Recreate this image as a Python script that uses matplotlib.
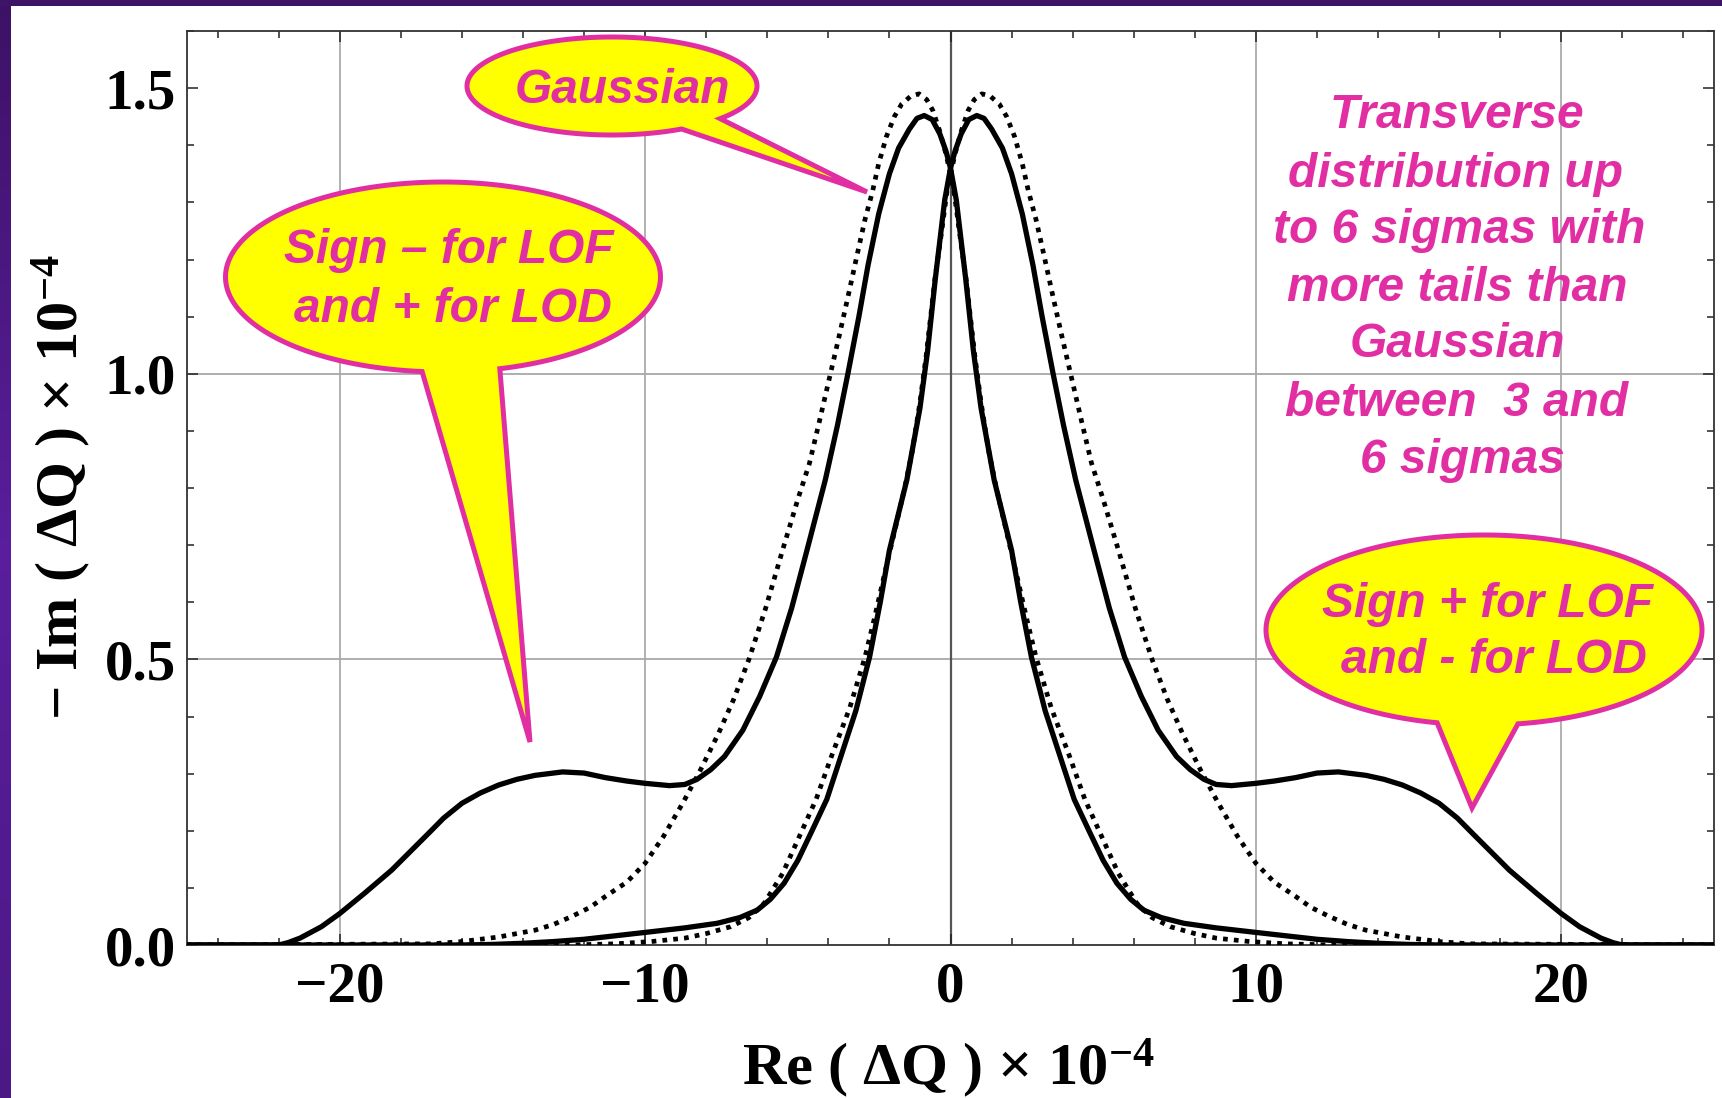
import numpy as np
import matplotlib
matplotlib.use('Agg')
import matplotlib.pyplot as plt
from matplotlib.patches import Polygon
from matplotlib.ticker import MultipleLocator, FormatStrFormatter
from matplotlib.colors import LinearSegmentedColormap

plt.rcParams['font.family'] = ['Liberation Serif', 'DejaVu Serif']
plt.rcParams['font.weight'] = 'bold'
plt.rcParams['mathtext.fontset'] = 'custom'
plt.rcParams['mathtext.rm'] = 'Liberation Serif:bold'
plt.rcParams['mathtext.it'] = 'Liberation Serif:bold'
plt.rcParams['mathtext.bf'] = 'Liberation Serif:bold'

# stability curve shifted to the left (solid), the other one is its mirror image
solid_x = [-25, -22.0, -21.7, -21.3, -20.6, -20.0, -19.2, -18.3, -17.7, -17.1, -16.6,
           -16.0, -15.4, -14.8, -14.2, -13.6, -12.7, -12.0, -11.3, -10.6, -10.0, -9.2,
           -8.7, -8.3, -7.85, -7.4, -6.8, -6.25, -5.7, -5.2, -4.7, -4.1, -3.7, -3.36,
           -3.0, -2.7, -2.35, -2.0, -1.7, -1.35, -1.1, -0.86, -0.6, -0.35, -0.15, 0.0,
           0.19, 0.5, 0.75, 1.0, 1.43, 2.0, 2.3, 2.65, 3.1, 3.59, 4.05, 4.57, 5.0, 5.45,
           5.9, 6.33, 6.9, 7.64, 8.7, 9.84, 11.0, 12.0, 13.0, 14.0, 15.0, 16.0, 25]
solid_y = [0, 0, 0.004, 0.012, 0.032, 0.055, 0.09, 0.131, 0.163, 0.195, 0.222,
           0.248, 0.266, 0.28, 0.29, 0.297, 0.303, 0.301, 0.293, 0.287, 0.283, 0.279,
           0.281, 0.29, 0.307, 0.33, 0.376, 0.435, 0.504, 0.59, 0.691, 0.814, 0.91, 1.0,
           1.1, 1.19, 1.28, 1.35, 1.395, 1.428, 1.447, 1.452, 1.445, 1.42, 1.39, 1.36,
           1.304, 1.165, 1.04, 0.94, 0.814, 0.691, 0.6, 0.504, 0.41, 0.33, 0.255, 0.196,
           0.148, 0.108, 0.08, 0.061, 0.048, 0.038, 0.03, 0.023, 0.016, 0.01, 0.006,
           0.003, 0.001, 0, 0]

# gaussian reference (dotted), same mirror arrangement
gauss_x = [-25, -17.0, -16.0, -15.4, -14.8, -13.6, -13.0, -12.4, -11.8, -11.3, -10.6,
           -10.0, -9.4, -8.75, -8.2, -7.6, -7.1, -6.6, -6.05, -5.5, -5.0, -4.62, -4.3,
           -3.98, -3.65, -3.36, -3.05, -2.8, -2.55, -2.35, -2.1, -1.84, -1.6, -1.3,
           -1.03, -0.78, -0.58, -0.36, -0.15, 0.1, 0.3, 0.5, 0.8, 1.0, 1.25, 1.5, 1.85,
           2.2, 2.5, 2.8, 3.3, 3.9, 4.4, 5.0, 5.5, 6.1, 6.6, 7.2, 8.0, 8.7, 9.8, 11.0,
           12.5, 25]
gauss_y = [0, 0.002, 0.006, 0.01, 0.014, 0.026, 0.036, 0.05, 0.066, 0.085, 0.11,
           0.143, 0.19, 0.25, 0.305, 0.37, 0.43, 0.50, 0.59, 0.691, 0.78, 0.843, 0.915,
           0.989, 1.065, 1.134, 1.21, 1.27, 1.32, 1.368, 1.415, 1.45, 1.472, 1.486,
           1.49, 1.48, 1.461, 1.426, 1.385, 1.325, 1.245, 1.17, 1.03, 0.95, 0.865, 0.80,
           0.72, 0.64, 0.57, 0.504, 0.415, 0.33, 0.255, 0.184, 0.125, 0.073, 0.048,
           0.032, 0.02, 0.012, 0.006, 0.002, 0, 0]

transverse_lines = ['Transverse', 'distribution up', 'to 6 sigmas with',
                    'more tails than', 'Gaussian', 'between  3 and', '6 sigmas']

MAG = '#E12FA3'
YEL = '#FFFF00'

W, H = 1722, 1098
fig = plt.figure(figsize=(W / 100, H / 100), dpi=100)
fig.patch.set_facecolor('white')

ax = fig.add_axes([187 / W, (H - 945) / H, 1527 / W, 914 / H])
ax.set_xlim(-25, 25)
ax.set_ylim(0, 1.6)

for xv in [-20, -10, 10, 20]:
    ax.axvline(xv, color='#9c9c9c', lw=1.1, zorder=1)
for yv in [0.5, 1.0]:
    ax.axhline(yv, color='#a8a8a8', lw=1.3, zorder=1)
ax.axvline(0, color='#555555', lw=1.6, zorder=1)

sx = np.array(solid_x)
gx = np.array(gauss_x)
ax.plot(sx, solid_y, color='k', lw=3.8, zorder=3, solid_joinstyle='round')
ax.plot(-sx, solid_y, color='k', lw=3.8, zorder=3, solid_joinstyle='round')
ax.plot(gx, gauss_y, color='k', lw=3.4, linestyle=(0, (1, 1.3)), zorder=3)
ax.plot(-gx, gauss_y, color='k', lw=3.4, linestyle=(0, (1, 1.3)), zorder=3)

ax.xaxis.set_major_locator(MultipleLocator(10))
ax.xaxis.set_minor_locator(MultipleLocator(2))
ax.yaxis.set_major_locator(MultipleLocator(0.5))
ax.yaxis.set_minor_locator(MultipleLocator(0.1))
ax.yaxis.set_major_formatter(FormatStrFormatter('%.1f'))
ax.tick_params(which='both', direction='in', top=True, right=True, width=1.1, color='#222222')
ax.tick_params(which='major', length=8)
ax.tick_params(which='minor', length=5)
ax.tick_params(axis='x', which='major', labelsize=41, pad=12)
ax.tick_params(axis='y', which='major', labelsize=41, pad=8)
for s in ax.spines.values():
    s.set_color('#333333')
    s.set_linewidth(1.3)

fig.text(948 / W, (H - 1085) / H, r'Re ( ΔQ ) × 10$^{-4}$', fontsize=43.5,
         ha='center', va='baseline', fontweight='bold')
fig.text(78 / W, (H - 487) / H, r'− Im ( ΔQ ) × 10$^{-4}$', fontsize=43.5,
         ha='center', va='baseline', rotation=90, rotation_mode='anchor',
         fontweight='bold')

# overlay in pixel coordinates for the frame decoration and callouts
ov = fig.add_axes([0, 0, 1, 1], zorder=5)
ov.axis('off')

cm = LinearSegmentedColormap.from_list('pur', ['#3d1266', '#5a1e9e', '#4c1885'])
ov.imshow(np.linspace(0, 1, 200).reshape(-1, 1), cmap=cm, aspect='auto',
          extent=(0, 11, H, 0), zorder=1)
ov.add_patch(plt.Rectangle((0, 0), W, 6, color='#3d1466', lw=0, zorder=2))
ov.set_xlim(0, W)
ov.set_ylim(H, 0)


def callout(cx, cy, w, h, base1, base2, tip):
    a, b = w / 2, h / 2
    t1 = np.arctan2((base1[1] - cy) / b, (base1[0] - cx) / a)
    t2 = np.arctan2((base2[1] - cy) / b, (base2[0] - cx) / a)
    d = (t2 - t1) % (2 * np.pi)
    if d > np.pi:
        t1, t2 = t2, t1
    t2 = t1 + (t2 - t1) % (2 * np.pi)
    ts = np.linspace(t2, t1 + 2 * np.pi, 240)
    pts = np.column_stack([cx + a * np.cos(ts), cy + b * np.sin(ts)])
    verts = np.vstack([pts, [tip]])
    ov.add_patch(Polygon(verts, closed=True, fc=YEL, ec=MAG, lw=3.6,
                         joinstyle='miter', zorder=3))


callout(612, 86, 290, 98, (680, 128), (718, 118), (867, 192))
callout(443, 277, 435, 190, (422, 372), (500, 369), (530, 742))
callout(1484, 630, 436, 190, (1437, 723), (1518, 724), (1472, 808))

tfont = dict(family=['Liberation Sans', 'DejaVu Sans'], fontsize=34.5,
             fontweight='bold', fontstyle='italic', color=MAG,
             ha='center', va='baseline', zorder=4)
ov.text(622, 103, 'Gaussian', **tfont)
ov.text(449, 263, 'Sign – for LOF', **tfont)
ov.text(453, 322, 'and + for LOD', **tfont)
ov.text(1488, 617, 'Sign + for LOF', **tfont)
ov.text(1494, 673, 'and - for LOD', **tfont)

t_x = [1457, 1455, 1459, 1457, 1457, 1457, 1462]
t_y = [128, 187, 243, 301, 357, 416, 473]
for line, xx, yy in zip(transverse_lines, t_x, t_y):
    ov.text(xx, yy, line, **tfont)

fig.savefig('out.png', dpi=100)
